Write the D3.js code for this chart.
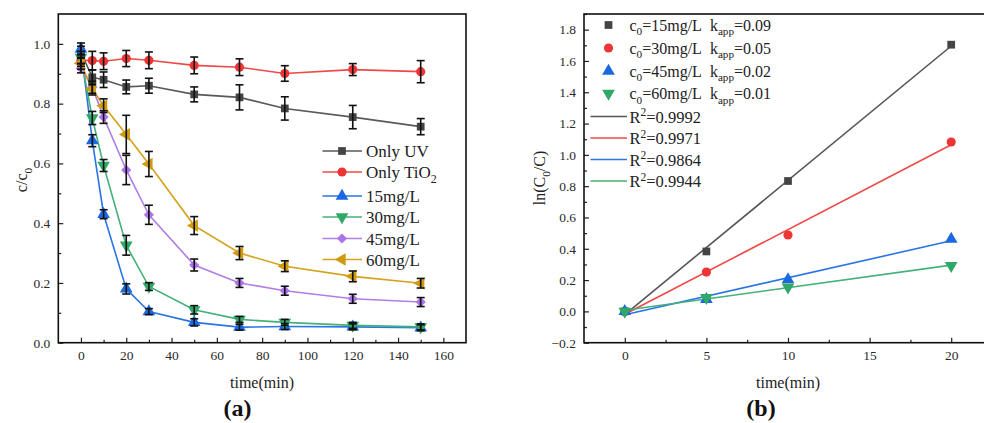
<!DOCTYPE html>
<html><head><meta charset="utf-8">
<script src="https://cdn.jsdelivr.net/npm/d3@7/dist/d3.min.js"></script>
<style>
body{margin:0;background:#fff;}
svg{display:block;}
text{font-family:"Liberation Serif","Times New Roman",serif;}
</style></head>
<body>
<svg id="c" width="984" height="423"></svg>
<script>
// ---------------- DATA (a) ----------------
const timesA = [0, 5, 10, 20, 30, 50, 70, 90, 120, 150];
const onlyUV      = [0.972, 0.888, 0.880, 0.856, 0.860, 0.831, 0.821, 0.784, 0.755, 0.723];
const onlyUVErr   = [0.020, 0.025, 0.026, 0.023, 0.025, 0.025, 0.042, 0.039, 0.039, 0.027];
const onlyTiO2    = [0.945, 0.944, 0.942, 0.951, 0.945, 0.928, 0.922, 0.901, 0.914, 0.907];
const onlyTiO2Err = [0.020, 0.031, 0.028, 0.027, 0.028, 0.028, 0.028, 0.026, 0.020, 0.037];
const c15         = [0.983, 0.676, 0.430, 0.180, 0.104, 0.068, 0.052, 0.054, 0.053, 0.050];
const c15Err      = [0.020, 0.020, 0.015, 0.017, 0.010, 0.012, 0.010, 0.010, 0.010, 0.010];
const c30         = [0.955, 0.752, 0.593, 0.326, 0.188, 0.110, 0.078, 0.068, 0.058, 0.053];
const c30Err      = [0.020, 0.022, 0.020, 0.033, 0.013, 0.014, 0.010, 0.010, 0.010, 0.010];
const c45         = [0.918, 0.855, 0.755, 0.578, 0.428, 0.260, 0.200, 0.174, 0.147, 0.136];
const c45Err      = [0.015, 0.020, 0.021, 0.049, 0.032, 0.020, 0.015, 0.015, 0.015, 0.015];
const c60         = [0.935, 0.849, 0.793, 0.697, 0.598, 0.392, 0.300, 0.256, 0.222, 0.199];
const c60Err      = [0.020, 0.020, 0.023, 0.064, 0.042, 0.030, 0.022, 0.018, 0.018, 0.016];
const namesA = ["Only UV", "Only TiO2", "15mg/L", "30mg/L", "45mg/L", "60mg/L"];
const xTicksA = [0, 20, 40, 60, 80, 100, 120, 140, 160];
const yTicksA = [0.0, 0.2, 0.4, 0.6, 0.8, 1.0];

// ---------------- DATA (b) ----------------
const timesB = [0, 5, 10, 20];
const ln15 = [0.000, 0.383, 0.833, 1.704];
const ln30 = [0.000, 0.251, 0.488, 1.082];
const ln45 = [0.000, 0.077, 0.203, 0.462];
const ln60 = [0.000, 0.088, 0.155, 0.292];
const concB = ["15", "30", "45", "60"];
const kapp = ["0.09", "0.05", "0.02", "0.01"];
const r2 = ["0.9992", "0.9971", "0.9864", "0.9944"];
const xTicksB = [0, 5, 10, 15, 20];
const yTicksB = [-0.2, 0.0, 0.2, 0.4, 0.6, 0.8, 1.0, 1.2, 1.4, 1.6, 1.8];

// ---------------- STYLE ----------------
const colA = {line:["#595959","#f04848","#2a74e6","#44b07a","#b07ee6","#d4a21c"],
              mark:["#444444","#ee3434","#1c68e0","#30a868","#ad74ea","#cf9a10"]};
const colB = {mark:["#444444","#ee3434","#1c68e0","#30a868"],
              line:["#555555","#f04848","#2a74e6","#44b07a"]};
const seriesA = [
  {v:onlyUV, e:onlyUVErr, sym:"square"},
  {v:onlyTiO2, e:onlyTiO2Err, sym:"circle"},
  {v:c15, e:c15Err, sym:"up"},
  {v:c30, e:c30Err, sym:"down"},
  {v:c45, e:c45Err, sym:"diamond"},
  {v:c60, e:c60Err, sym:"left"}
];
const seriesB = [
  {v:ln15, sym:"square"}, {v:ln30, sym:"circle"}, {v:ln45, sym:"up"}, {v:ln60, sym:"down"}
];

const svg = d3.select("#c");

function symPath(kind){
  if(kind==="square") return {d:d3.symbol(d3.symbolSquare,60)(), r:0};
  if(kind==="circle") return {d:d3.symbol(d3.symbolCircle,66)(), r:0};
  if(kind==="up") return {d:d3.symbol(d3.symbolTriangle,70)(), r:0};
  if(kind==="down") return {d:d3.symbol(d3.symbolTriangle,70)(), r:180};
  if(kind==="left") return {d:d3.symbol(d3.symbolTriangle,70)(), r:-90};
  if(kind==="diamond") return {d:d3.symbol(d3.symbolSquare,52)(), r:45};
}
function drawSym(g, kind, x, y, fill){
  const s = symPath(kind);
  g.append("path").attr("d", s.d).attr("fill", fill)
   .attr("transform", `translate(${x},${y}) rotate(${s.r})`);
}
// rich text: segments [text, mode] mode: 0 normal, 1 sub, 2 sup
function rich(g, x, y, segs, size, attrs){
  const t = g.append("text").attr("x", x).attr("y", y).attr("font-size", size);
  if(attrs) for(const k in attrs) t.attr(k, attrs[k]);
  let shift = 0;
  segs.forEach(([s, m])=>{
    const target = m===1 ? size*0.3 : m===2 ? -size*0.38 : 0;
    const ts = t.append("tspan").text(s).attr("dy", target-shift);
    if(m) ts.attr("font-size", size*0.7);
    shift = target;
  });
  return t;
}

function axes(g, x, y, xTicks, xMinor, yTicks, yMinor, yFmt){
  const [x0,x1] = x.range(), [y0,y1] = y.range();
  g.append("g").attr("transform",`translate(0,${y0})`)
   .call(d3.axisBottom(x).tickValues(xMinor).tickSize(-3).tickFormat(""))
   .call(a=>{a.select(".domain").remove(); a.selectAll("text").remove();});
  g.append("g").attr("transform",`translate(${x0},0)`)
   .call(d3.axisLeft(y).tickValues(yMinor).tickSize(-3).tickFormat(""))
   .call(a=>{a.select(".domain").remove(); a.selectAll("text").remove();});
  const xa = g.append("g").attr("transform",`translate(0,${y0})`)
   .call(d3.axisBottom(x).tickValues(xTicks).tickSize(-5).tickPadding(8).tickFormat(d3.format("d")));
  const ya = g.append("g").attr("transform",`translate(${x0},0)`)
   .call(d3.axisLeft(y).tickValues(yTicks).tickSize(-5).tickPadding(8).tickFormat(yFmt));
  [xa,ya].forEach(a=>{
    a.select(".domain").remove();
    a.attr("font-family","Liberation Serif");
    a.selectAll("text").attr("font-size",13.5).attr("fill","#2a2a2a");
  });
  g.selectAll(".tick line").attr("stroke","#222").attr("stroke-width",1.2);
  g.append("rect").attr("x",x0).attr("y",y1).attr("width",x1-x0).attr("height",y0-y1)
   .attr("fill","none").attr("stroke","#111").attr("stroke-width",1.6);
}

// ================= PANEL (a) =================
{
  const x = d3.scaleLinear([-10,170],[58.3,466]);
  const y = d3.scaleLinear([0,1.1],[342.7,14]);
  const g = svg.append("g");
  axes(g, x, y, xTicksA, d3.range(-10,171,10).filter(v=>v>-10&&v<170&&v%20!==0),
       yTicksA, [0.1,0.3,0.5,0.7,0.9], d3.format(".1f"));
  const line = d3.line().x((d,i)=>x(timesA[i])).y(d=>y(d));
  seriesA.forEach((s,k)=>{
    g.append("path").datum(s.v).attr("d", line).attr("fill","none")
     .attr("stroke", colA.line[k]).attr("stroke-width",1.6);
  });
  seriesA.forEach((s,k)=>{
    s.v.forEach((v,i)=> drawSym(g, s.sym, x(timesA[i]), y(v), colA.mark[k]));
  });
  const eg = g.append("g").attr("stroke","#111").attr("stroke-width",1.6).attr("fill","none");
  seriesA.forEach((s)=>{
    s.v.forEach((v,i)=>{
      const cx = x(timesA[i]), ya = y(v+s.e[i]), yb = y(v-s.e[i]);
      eg.append("line").attr("x1",cx).attr("x2",cx).attr("y1",ya).attr("y2",yb);
      eg.append("line").attr("x1",cx-4).attr("x2",cx+4).attr("y1",ya).attr("y2",ya);
      eg.append("line").attr("x1",cx-4).attr("x2",cx+4).attr("y1",yb).attr("y2",yb);
    });
  });
  const lg = g.append("g");
  const rowsY = [151, 172, 196, 217, 238.5, 259.5];
  namesA.forEach((n,k)=>{
    const yy = rowsY[k];
    lg.append("line").attr("x1",322.5).attr("x2",362).attr("y1",yy).attr("y2",yy)
      .attr("stroke",colA.line[k]).attr("stroke-width",1.6);
    drawSym(lg, seriesA[k].sym, 342, yy, colA.mark[k]);
    const segs = n==="Only TiO2" ? [["Only TiO",0],["2",1]] : [[n,0]];
    rich(lg, 366, yy+6, segs, 17, {fill:"#222"});
  });
  g.append("text").attr("x",262).attr("y",388).attr("text-anchor","middle")
   .attr("font-size",16).attr("fill","#222").text("time(min)");
  rich(g, 0, 0, [["c/c",0],["0",1]], 16, {fill:"#222","text-anchor":"middle",
       transform:"translate(27,180) rotate(-90)"});
  g.append("text").attr("x",237.5).attr("y",416).attr("text-anchor","middle")
   .attr("font-size",24).attr("font-weight","bold").attr("fill","#111").text("(a)");
}

// ================= PANEL (b) =================
{
  const x = d3.scaleLinear([-2.5,22.5],[584,992]);
  const y = d3.scaleLinear([-0.2,1.9],[342.7,14]);
  const g = svg.append("g");
  axes(g, x, y, xTicksB, [2.5,7.5,12.5,17.5],
       yTicksB, d3.range(-0.1,1.91,0.2).map(v=>+v.toFixed(2)), d3.format(".1f"));
  // fit lines (least squares from the data)
  seriesB.forEach((s,k)=>{
    const mx = d3.mean(timesB), my = d3.mean(s.v);
    const sxy = d3.sum(timesB, (t,i)=>(t-mx)*(s.v[i]-my));
    const sxx = d3.sum(timesB, t=>(t-mx)*(t-mx));
    const b = sxy/sxx, a = my - b*mx;
    g.append("line").attr("x1",x(0)).attr("x2",x(20)).attr("y1",y(a)).attr("y2",y(a+b*20))
     .attr("stroke",colB.line[k]).attr("stroke-width",1.6);
  });
  seriesB.forEach((s,k)=>{
    s.v.forEach((v,i)=> drawSym(g, s.sym, x(timesB[i]), y(v), colB.mark[k]));
  });
  const lg = g.append("g");
  const symRows = [25, 48, 71, 93.5];
  const lineRows = [116.5, 138, 159.5, 181];
  concB.forEach((c,k)=>{
    drawSym(lg, seriesB[k].sym, 608.5, symRows[k], colB.mark[k]);
    rich(lg, 629.5, symRows[k]+5.5, [["c",0],["0",1],["="+c+"mg/L\u00a0\u00a0k",0],["app",1],["="+kapp[k],0]], 16, {fill:"#222"});
  });
  r2.forEach((r,k)=>{
    lg.append("line").attr("x1",590.5).attr("x2",627).attr("y1",lineRows[k]).attr("y2",lineRows[k])
      .attr("stroke",colB.line[k]).attr("stroke-width",1.6);
    rich(lg, 629.5, lineRows[k]+6, [["R",0],["2",2],["="+r,0]], 16.5, {fill:"#222"});
  });
  g.append("text").attr("x",788).attr("y",388).attr("text-anchor","middle")
   .attr("font-size",16).attr("fill","#222").text("time(min)");
  rich(g, 0, 0, [["ln(C",0],["0",1],["/C)",0]], 16, {fill:"#222","text-anchor":"middle",
       transform:"translate(545,178) rotate(-90)"});
  g.append("text").attr("x",761).attr("y",416).attr("text-anchor","middle")
   .attr("font-size",24).attr("font-weight","bold").attr("fill","#111").text("(b)");
}
</script>
</body></html>
